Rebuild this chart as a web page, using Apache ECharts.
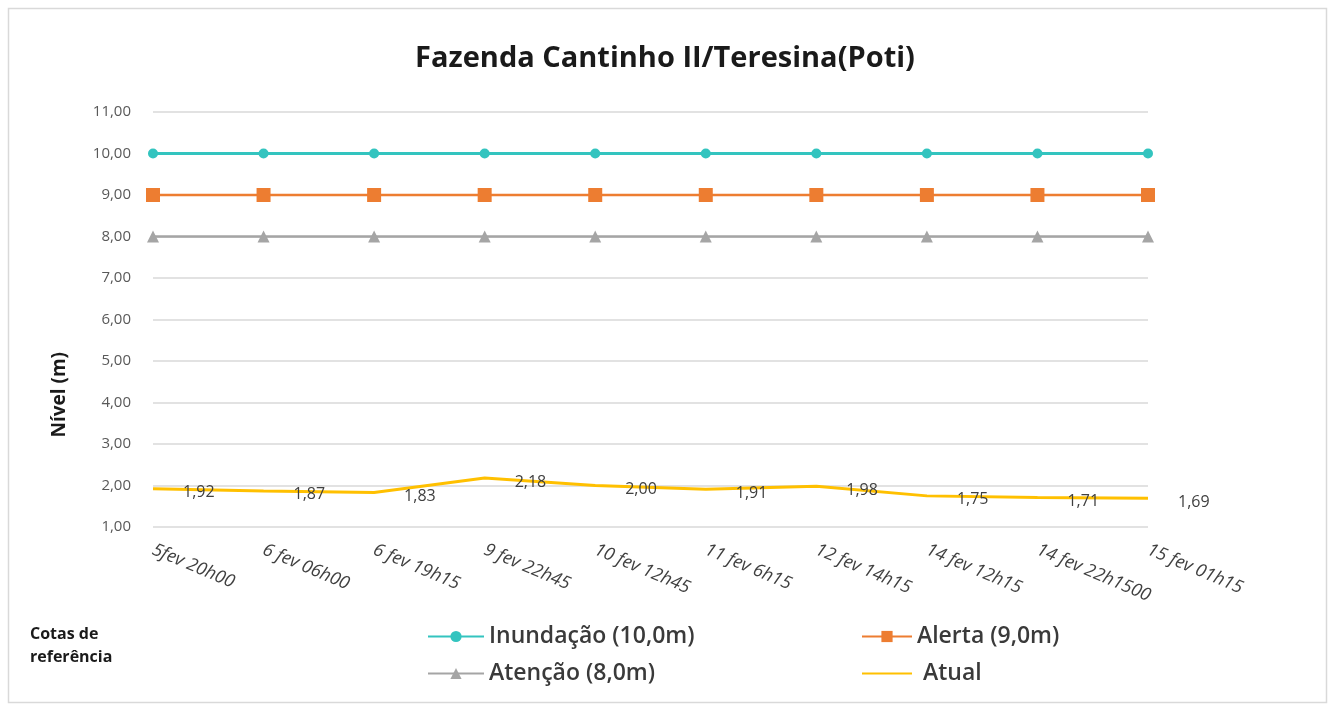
<!DOCTYPE html>
<html>
<head>
<meta charset="utf-8">
<script src="https://cdn.jsdelivr.net/npm/echarts@6/dist/echarts.min.js"></script>
<style>
  html, body { margin: 0; padding: 0; background: #fff; }
  #chart { width: 1330px; height: 706px; }
</style>
</head>
<body>
<div id="chart"></div>
<script>
var categories = ['5fev 20h00', '6 fev 06h00', '6 fev 19h15', '9 fev 22h45', '10 fev 12h45',
  '11 fev 6h15', '12 fev 14h15', '14 fev 12h15', '14 fev 22h1500', '15 fev 01h15'];
var inundacao = [10, 10, 10, 10, 10, 10, 10, 10, 10, 10];
var alerta = [9, 9, 9, 9, 9, 9, 9, 9, 9, 9];
var atencao = [8, 8, 8, 8, 8, 8, 8, 8, 8, 8];
var atual = [1.92, 1.87, 1.83, 2.18, 2.00, 1.91, 1.98, 1.75, 1.71, 1.69];

function virgula(v) { return Number(v).toFixed(2).replace('.', ','); }

var myChart = echarts.init(document.getElementById('chart'));
var fonte = 'Open Sans, Noto Sans, sans-serif';
var legendaTexto = { fontSize: 23, fontWeight: 600, color: '#3a3a3a' };

myChart.setOption({
  animation: false,
  textStyle: { fontFamily: fonte },
  title: {
    text: 'Fazenda Cantinho II/Teresina(Poti)',
    left: 'center',
    top: 39,
    textStyle: { fontSize: 29, fontWeight: 'bold', color: '#1a1a1a', fontFamily: fonte }
  },
  grid: { left: 153, right: 182, top: 112, bottom: 179, containLabel: false },
  legend: [
    {
      orient: 'vertical', left: 422, top: 620, itemGap: 14, itemWidth: 56, itemHeight: 14,
      data: ['Inundação (10,0m)', 'Atenção (8,0m)'],
      textStyle: legendaTexto
    },
    {
      orient: 'vertical', left: 856, top: 620, itemGap: 14, itemWidth: 50, itemHeight: 14,
      data: ['Alerta (9,0m)', { name: 'Atual', itemStyle: { opacity: 0 } }],
      formatter: function (n) { return n === 'Atual' ? ' Atual' : n; },
      textStyle: legendaTexto
    }
  ],
  xAxis: {
    type: 'category',
    boundaryGap: false,
    data: categories,
    axisLine: { show: false },
    axisTick: { show: false },
    axisLabel: {
      rotate: -23, margin: 22, fontSize: 18, fontStyle: 'italic', color: '#404040',
      interval: 0
    }
  },
  yAxis: {
    type: 'value',
    min: 1, max: 11, interval: 1,
    axisLine: { show: false },
    axisTick: { show: false },
    splitLine: { lineStyle: { color: '#d9d9d9', width: 1.5 } },
    axisLabel: { fontSize: 15, color: '#595959', margin: 22, formatter: virgula }
  },
  graphic: [
    {
      type: 'rect', left: 6, top: 6, z: -1,
      shape: { width: 1318, height: 694 },
      style: { fill: 'none', stroke: '#d9d9d9', lineWidth: 1.5 }
    },
    {
      type: 'text', left: 50, top: 352, rotation: Math.PI / 2,
      style: { text: 'Nível (m)', font: 'bold 19px ' + fonte, fill: '#1a1a1a' }
    },
    {
      type: 'text', left: 30, top: 623,
      style: { text: 'Cotas de\nreferência', font: 'bold 16px ' + fonte, fill: '#1a1a1a', lineHeight: 23 }
    }
  ],
  series: [
    {
      name: 'Inundação (10,0m)', type: 'line', data: inundacao,
      symbol: 'circle', symbolSize: 10,
      itemStyle: { color: '#33c4bf' }, lineStyle: { width: 3, color: '#33c4bf' }
    },
    {
      name: 'Alerta (9,0m)', type: 'line', data: alerta,
      symbol: 'rect', symbolSize: 14,
      itemStyle: { color: '#ed7d31' }, lineStyle: { width: 2.5, color: '#ed7d31' }
    },
    {
      name: 'Atenção (8,0m)', type: 'line', data: atencao,
      symbol: 'triangle', symbolSize: 12,
      itemStyle: { color: '#a5a5a5' }, lineStyle: { width: 2.5, color: '#a5a5a5' }
    },
    {
      name: 'Atual', type: 'line', data: atual,
      symbol: 'circle', symbolSize: 0, showSymbol: true,
      itemStyle: { color: '#ffc000' }, lineStyle: { width: 3, color: '#ffc000' },
      label: {
        show: true, position: 'right', distance: 30, offset: [0, 4],
        fontSize: 16, color: '#404040', formatter: function (p) { return virgula(p.value); }
      }
    }
  ]
});
</script>
</body>
</html>
